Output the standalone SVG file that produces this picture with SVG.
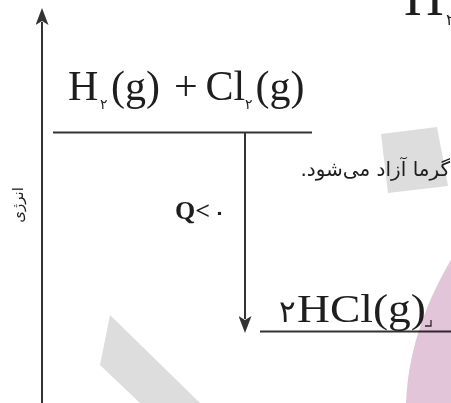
<svg xmlns="http://www.w3.org/2000/svg" width="451" height="403" viewBox="0 0 451 403">
<style>
.ln{stroke:#333;stroke-width:2;fill:none}
.ser{font-family:"Liberation Serif","Times New Roman",serif;fill:#1e1e1e}
.ar{font-family:"DejaVu Sans",sans-serif;fill:#1e1e1e}
.wm{fill:#dddddd}
</style>
<defs>
<marker id="ah" viewBox="0 0 17 13" markerWidth="17" markerHeight="13" refX="3" refY="6.5" orient="auto" markerUnits="userSpaceOnUse">
<path d="M0,0 L17,6.5 L0,13 L4,6.5 Z" fill="#333"/>
</marker>
</defs>
<rect width="451" height="403" fill="#fff"/>
<g id="watermarks">
<polygon class="wm" points="381,134 437,127 448,186 388,193"/>
<polygon class="wm" points="110,315 200,403 140,403 100,365"/>
</g>
<g id="corner-label">
<text class="ser" x="404" y="15" font-size="55">H</text>
<text class="ar" x="446" y="25" font-size="16">۲</text>
</g>
<g id="axis">
<line class="ln" x1="42" y1="403" x2="42" y2="22" marker-end="url(#ah)"/>
<text class="ar" transform="translate(23,205) rotate(-90)" text-anchor="middle" font-size="15" fill="#444">انرژی</text>
</g>
<g id="reactants">
<line class="ln" x1="53" y1="132.5" x2="312" y2="132.5"/>
<text class="ser" x="68" y="100" font-size="42">H</text>
<text class="ar" x="100" y="109" font-size="14">۲</text>
<text class="ser" x="111" y="100" font-size="42">(g)</text>
<text class="ser" x="174" y="100" font-size="42">+</text>
<text class="ser" x="205.5" y="100" font-size="42">Cl</text>
<text class="ar" x="245" y="109" font-size="14">۲</text>
<text class="ser" x="255.5" y="100" font-size="42">(g)</text>
</g>
<g id="products">
<line class="ln" x1="260" y1="331.5" x2="451" y2="331.5"/>
<text class="ar" x="279" y="322" font-size="31">۲</text>
<text class="ser" x="297" y="322" font-size="41" textLength="129" lengthAdjust="spacingAndGlyphs">HCl(g)</text>
<path d="M431,320 V326 H425" stroke="#333" stroke-width="1.3" fill="none"/>
</g>
<g id="connectors">
<line class="ln" x1="245" y1="133" x2="245" y2="319" marker-end="url(#ah)"/>
</g>
<g id="labels">
<text class="ar" x="450" y="176" font-size="20" text-anchor="end">گرما آزاد می&#x200C;شود.&#x200F;</text>
<text class="ser" x="175" y="218.5" font-size="26" font-weight="bold">Q&lt;</text>
<text class="ar" x="214" y="218.5" font-size="18" font-weight="bold">۰</text>
</g>
<path d="M452,258 C430,295 408,345 406,403 L451,403 Z" fill="#e2c5d9" style="mix-blend-mode:multiply"/>
</svg>
